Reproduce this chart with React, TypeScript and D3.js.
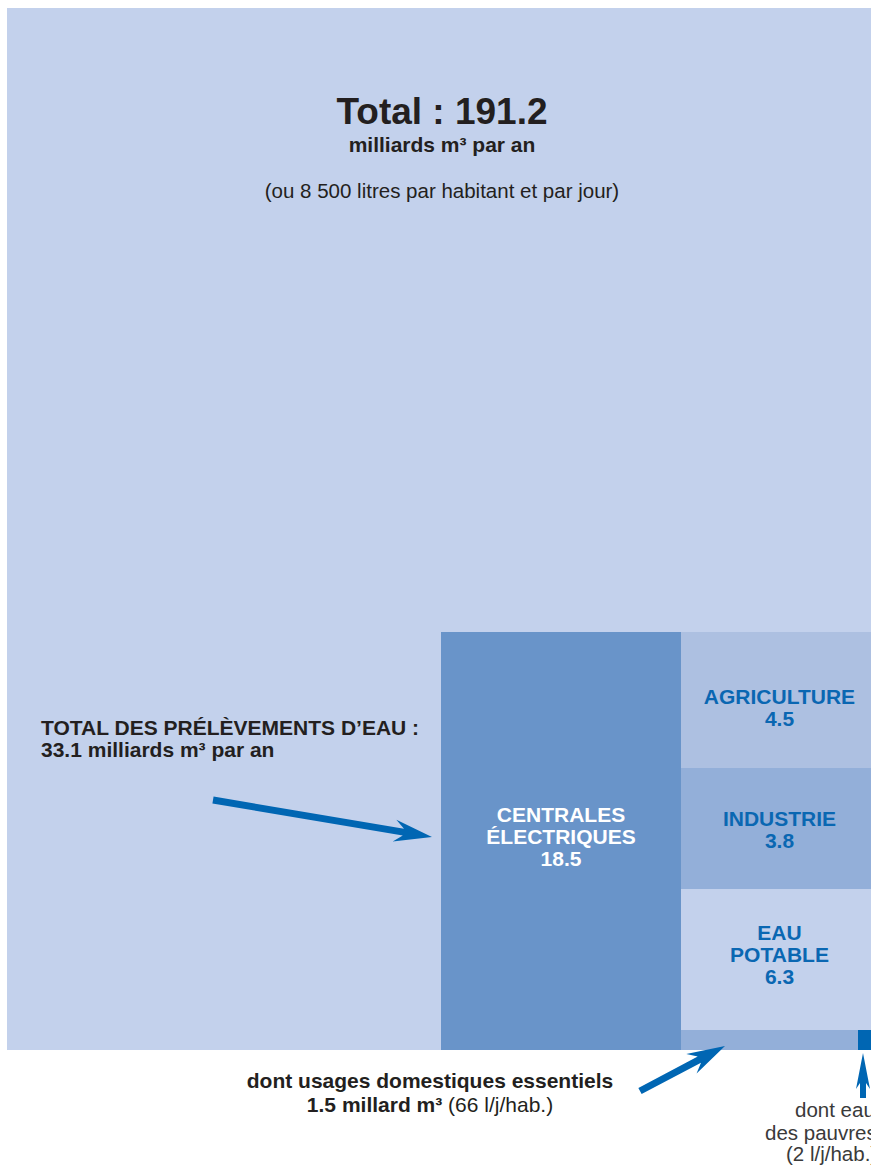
import React, { useEffect } from "react";
import * as d3 from "d3";

// ---- data ----
const totalValue = 191.2;
const totalUnit = "milliards m³ par an";
const totalPerCapita = "(ou 8 500 litres par habitant et par jour)";
const withdrawalTotal = 33.1;
const withdrawalTitle = "TOTAL DES PRÉLÈVEMENTS D’EAU :";
const withdrawalUnit = "milliards m³ par an";
const sectorLabelLines = [["CENTRALES", "ÉLECTRIQUES"], ["AGRICULTURE"], ["INDUSTRIE"], ["EAU", "POTABLE"]];
const sectorValues = [18.5, 4.5, 3.8, 6.3];
const domesticValue = 1.5;
const domesticPerCapita = 66;
const poorPerCapita = 2;

// ---- style / layout ----
const SW = 871;
const SH = 1165;
const OFF = 8;
const W = SW - OFF;
const FONT = "'Liberation Sans', Arial, Helvetica, sans-serif";
const DARK = "#231f20";
const BLUE = "#0066b3";
const LABEL_BLUE = "#0a67b2";
const sectorFills = ["#6994c9", "#adc0e1", "#93afd9", "#c3d1ec"];
const sectorText = ["#ffffff", LABEL_BLUE, LABEL_BLUE, LABEL_BLUE];
const labelNudge = [-4, 8, 1, -5];
const BG = "#c3d1ec";
const panelTop = 624;
const panelBottom = 1042;
const panelLeft = 433;

function arrowPoints(x1: number, y1: number, x2: number, y2: number, shaft: number, headLen: number, headHalf: number, notch: number) {
  const dx = x2 - x1, dy = y2 - y1;
  const L = Math.hypot(dx, dy);
  const ux = dx / L, uy = dy / L;
  const nx = -uy, ny = ux;
  const s = shaft / 2;
  const bx = x2 - ux * headLen, by = y2 - uy * headLen;
  const kx = x2 - ux * (headLen - notch), ky = y2 - uy * (headLen - notch);
  const pts = [
    [x1 + nx * s, y1 + ny * s],
    [kx + nx * s, ky + ny * s],
    [bx + nx * headHalf, by + ny * headHalf],
    [x2, y2],
    [bx - nx * headHalf, by - ny * headHalf],
    [kx - nx * s, ky - ny * s],
    [x1 - nx * s, y1 - ny * s],
  ];
  return pts.map((p) => p.join(",")).join(" ");
}

export default function App() {
  useEffect(() => {
    document.documentElement.style.overflow = "hidden";
  }, []);

  const rest = sectorValues.slice(1);
  const x = d3.scaleLinear().domain([0, sectorValues[0], withdrawalTotal]).range([panelLeft, 673, 870]);
  // vertical stack of the right column (not drawn to scale in the original)
  const cum = [0, ...Array.from(d3.cumsum(rest))];
  const y = d3.scaleLinear().domain(cum).range([panelTop, 760, 881, panelBottom]);
  const yMain = d3.scaleLinear().domain([0, sectorValues[0]]).range([panelTop, panelBottom]);
  const yDom = d3.scaleLinear().domain([0, domesticValue]).range([panelBottom, 1022]);

  const rects = [
    { x0: x(0), x1: x(sectorValues[0]), y0: yMain(0), y1: yMain(sectorValues[0]) },
    ...rest.map((v, i) => ({ x0: x(sectorValues[0]), x1: x(withdrawalTotal), y0: y(cum[i]), y1: y(cum[i + 1]) })),
  ];

  const lh = 22;
  const fs = 21;

  return (
    <svg
      width={SW}
      height={SH}
      style={{ display: "block", position: "fixed", left: 0, top: 0, background: "#ffffff" }}
      fontFamily={FONT}
    >
      <g transform={`translate(${OFF},${OFF})`}>
        <rect x={-1} y={0} width={W + 1} height={panelBottom} fill={BG} />
        <text x={434} y={116} textAnchor="middle" fontSize={37} fontWeight="bold" fill={DARK}>
          {`Total : ${d3.format(".1f")(totalValue)}`}
        </text>
        <text x={434} y={144} textAnchor="middle" fontSize={21} fontWeight="bold" fill={DARK}>
          {totalUnit}
        </text>
        <text x={434} y={190} textAnchor="middle" fontSize={20.5} fill={DARK}>
          {totalPerCapita}
        </text>
        <text x={33} y={727} fontSize={21} fontWeight="bold" fill={DARK}>
          {withdrawalTitle}
        </text>
        <text x={33} y={749} fontSize={21} fontWeight="bold" fill={DARK}>
          {`${withdrawalTotal} ${withdrawalUnit}`}
        </text>

        {rects.map((r, i) => (
          <rect key={i} x={r.x0} y={r.y0} width={r.x1 - r.x0} height={r.y1 - r.y0} fill={sectorFills[i]} />
        ))}
        {/* domestic strip */}
        <rect x={x(sectorValues[0])} y={yDom(domesticValue)} width={x(withdrawalTotal) - x(sectorValues[0])} height={yDom(0) - yDom(domesticValue)} fill="#93afd9" />
        {/* poor block */}
        <rect x={850} y={yDom(domesticValue)} width={x(withdrawalTotal) - 850} height={yDom(0) - yDom(domesticValue)} fill={BLUE} />

        {rects.map((r, i) => {
          const lines = [...sectorLabelLines[i], String(sectorValues[i])];
          const cx = (r.x0 + r.x1) / 2;
          const cyBase = i === 3 ? (r.y0 + yDom(domesticValue)) / 2 : (r.y0 + r.y1) / 2;
          const first = cyBase - ((lines.length - 1) * lh) / 2 + 7 + labelNudge[i];
          return (
            <text key={i} textAnchor="middle" fontSize={fs} fontWeight="bold" fill={sectorText[i]}>
              {lines.map((t, j) => (
                <tspan key={j} x={cx} y={first + j * lh}>{t}</tspan>
              ))}
            </text>
          );
        })}

        {/* arrows */}
        <polygon points={arrowPoints(205, 792, 424, 829, 7, 38, 11, 9)} fill={BLUE} />
        <polygon points={arrowPoints(632, 1083, 717, 1038, 7, 38, 11, 9)} fill={BLUE} />
        <polygon points={arrowPoints(855, 1090, 855, 1045, 6, 36, 7, 6)} fill={BLUE} />

        <text x={422} y={1080} textAnchor="middle" fontSize={21} fontWeight="bold" fill={DARK}>
          dont usages domestiques essentiels
        </text>
        <text x={422} y={1104} textAnchor="middle" fontSize={21} fill={DARK}>
          <tspan fontWeight="bold">{`${domesticValue} millard m³`}</tspan>
          <tspan>{` (${domesticPerCapita} l/j/hab.)`}</tspan>
        </text>

        <text fontSize={20.5} fill="#3a3a3a">
          <tspan x={787} y={1109}>dont eau</tspan>
          <tspan x={757} y={1132}>des pauvres</tspan>
          <tspan x={778} y={1153}>{`(${poorPerCapita} l/j/hab.)`}</tspan>
        </text>
      </g>
    </svg>
  );
}
